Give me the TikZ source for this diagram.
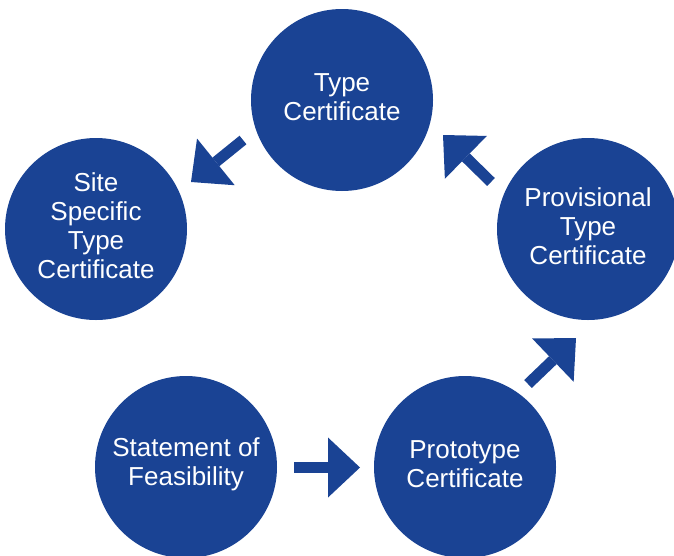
\documentclass[tikz,border=0pt]{standalone}
\usepackage{fontspec}
\setmainfont{Liberation Sans}
\usetikzlibrary{arrows.meta}
\definecolor{certblue}{RGB}{26,67,148}

\begin{document}
\begin{tikzpicture}[x=1pt,y=-1pt,
	stage/.style={circle, fill=certblue, minimum size=182pt, inner sep=0pt},
	stagelabel/.style={text=white, align=center, font=\fontsize{26}{29}\selectfont, yshift=3pt},
	blockarrow/.style={certblue, line width=11pt, -{Triangle[length=32pt,width=60pt,line width'=0pt]}}]
	\useasboundingbox (0,0) rectangle (674,555);
	\clip (0,0) rectangle (674,555);
	
	% stages of the cycle
	\node[stage, label={[stagelabel]center:Type\\Certificate}] (type) at (342,100) {};
	\node[stage, label={[stagelabel]center:Site\\Specific\\Type\\Certificate}] (site) at (96,229) {};
	\node[stage, label={[stagelabel]center:Provisional\\Type\\Certificate}] (prov) at (588,229) {};
	\node[stage, label={[stagelabel]center:Statement of\\Feasibility}] (sof) at (186,467) {};
	\node[stage, label={[stagelabel]center:Prototype\\Certificate}] (proto) at (465,467) {};
	
	% arrow ends
	\coordinate (sof-out) at (294,467.5);
	\coordinate (proto-in) at (360,467.5);
	\coordinate (proto-out) at (528,384);
	\coordinate (prov-in) at (576,338);
	\coordinate (prov-out) at (491,182);
	\coordinate (type-in) at (443,135);
	\coordinate (type-out) at (243,140);
	\coordinate (site-in) at (191,182);
	
	% block arrows
	\draw[blockarrow] (sof-out) -- (proto-in);
	\draw[blockarrow] (proto-out) -- (prov-in);
	\draw[blockarrow] (prov-out) -- (type-in);
	\draw[blockarrow] (type-out) -- (site-in);
\end{tikzpicture}
\end{document}
